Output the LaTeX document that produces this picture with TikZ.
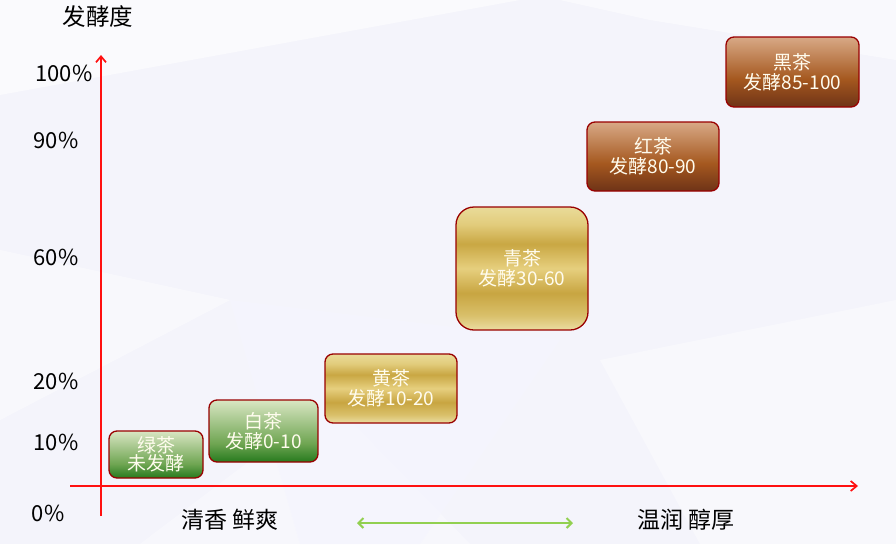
\documentclass[tikz,border=0pt]{standalone}
\usepackage{fontspec}
\setmainfont{Noto Sans CJK SC}
\usetikzlibrary{arrows.meta}
\definecolor{bg}{HTML}{F4F4FB}
\definecolor{axisred}{HTML}{FF1010}
\definecolor{bord}{HTML}{990000}
\definecolor{arrgreen}{HTML}{92D050}
\definecolor{txtc}{HTML}{FFFCEE}
\definecolor{gA}{HTML}{EBDDA2}
\definecolor{gB}{HTML}{D9C06A}
\definecolor{gC}{HTML}{C8A541}
\definecolor{gD}{HTML}{E6CF7E}
\definecolor{gE}{HTML}{C9A743}
\definecolor{gF}{HTML}{E2CC7C}
\definecolor{gG}{HTML}{E9DB99}
\definecolor{grA}{HTML}{267A1E}
\definecolor{grB}{HTML}{6FA552}
\definecolor{grC}{HTML}{D9E6C3}
\definecolor{brA}{HTML}{6E3317}
\definecolor{brB}{HTML}{A5581F}
\definecolor{brC}{HTML}{D8A986}
\pgfdeclareverticalshading{goldsh}{100bp}{color(0bp)=(gA); color(25bp)=(gA); color(31bp)=(gB); color(40bp)=(gC); color(50bp)=(gD); color(60bp)=(gE); color(68bp)=(gF); color(75bp)=(gG); color(100bp)=(gG)}
\pgfdeclareverticalshading{greensh}{100bp}{color(0bp)=(grA); color(25bp)=(grA); color(40bp)=(grB); color(75bp)=(grC); color(100bp)=(grC)}
\pgfdeclareverticalshading{brownsh}{100bp}{color(0bp)=(brA); color(25bp)=(brA); color(45bp)=(brB); color(75bp)=(brC); color(100bp)=(brC)}
\tikzset{
  teabox/.style={draw=bord, line width=1.3pt, rounded corners=8pt, inner sep=0pt, align=center,
    text=txtc, font=\fontsize{19}{22}\selectfont},
  ylab/.style={anchor=east, font=\fontsize{22}{26}\selectfont, text=black},
  bottomlab/.style={font=\fontsize{23}{26}\selectfont, text=black},
  axis/.style={draw=axisred, line width=1.7pt},
}
\begin{document}
\begin{tikzpicture}[x=1pt,y=-1pt]
\useasboundingbox (0,0) rectangle (896,544);
\fill[bg] (0,0) rectangle (896,544);
% faint background facets
\fill[white, opacity=0.55] (0,0) -- (520,0) -- (0,95) -- cycle;
\fill[white, opacity=0.45] (0,250) -- (230,300) -- (0,420) -- cycle;
\fill[white, opacity=0.5] (560,0) -- (896,0) -- (896,60) -- (650,20) -- cycle;
\fill[white, opacity=0.4] (600,360) -- (896,300) -- (896,544) -- (700,544) -- cycle;
\fill[white, opacity=0.35] (140,544) -- (330,400) -- (470,544) -- cycle;
\fill[blue!4, opacity=0.6] (230,300) -- (560,340) -- (420,544) -- (300,544) -- cycle;
% axes
\coordinate (yb) at (101,516);
\coordinate (yt) at (101,55);
\coordinate (xl) at (70,486);
\coordinate (xr) at (858,486);
\draw[axis, -{Straight Barb[length=6pt,width=10pt]}] (yb) -- (yt);
\draw[axis, -{Straight Barb[length=6pt,width=10pt]}] (xl) -- (xr);
% labels
\node[font=\fontsize{23.5}{26}\selectfont] (ydeg) at (98,17) {发酵度};
\node[ylab] (l100) at (96,73) {100\%};
\node[ylab] (l90) at (82,140) {90\%};
\node[ylab] (l60) at (82,257) {60\%};
\node[ylab] (l20) at (82,381) {20\%};
\node[ylab] (l10) at (82,442) {10\%};
\node[ylab] (l0) at (68,513) {0\%};
% tea boxes
\node[teabox, shading=greensh, minimum width=94pt, minimum height=47pt] (lv) at (156,454.5) {绿茶\\[-4pt]未发酵};
\node[teabox, shading=greensh, minimum width=109pt, minimum height=62pt] (bai) at (263.5,431) {白茶\\[-2pt]发酵0-10};
\node[teabox, shading=goldsh, minimum width=132pt, minimum height=69pt] (huang) at (391,388.5) {黄茶\\[-2pt]发酵10-20};
\node[teabox, shading=goldsh, rounded corners=18pt, minimum width=132pt, minimum height=123pt] (qing) at (522,268.5) {青茶\\[-2pt]发酵30-60};
\node[teabox, shading=brownsh, minimum width=132pt, minimum height=69pt] (hong) at (653,156.5) {红茶\\[-2pt]发酵80-90};
\node[teabox, shading=brownsh, minimum width=133pt, minimum height=70pt] (hei) at (792.5,72) {黑茶\\[-2pt]发酵85-100};
% bottom
\node[bottomlab] (fresh) at (230,520) {清香 鲜爽};
\node[bottomlab] (mellow) at (686,520) {温润 醇厚};
\coordinate (ga) at (357,523);
\coordinate (gb) at (573,523);
\draw[arrgreen, line width=2pt, {Straight Barb[length=5pt,width=10pt]}-{Straight Barb[length=5pt,width=10pt]}] (ga) -- (gb);
\end{tikzpicture}
\end{document}
